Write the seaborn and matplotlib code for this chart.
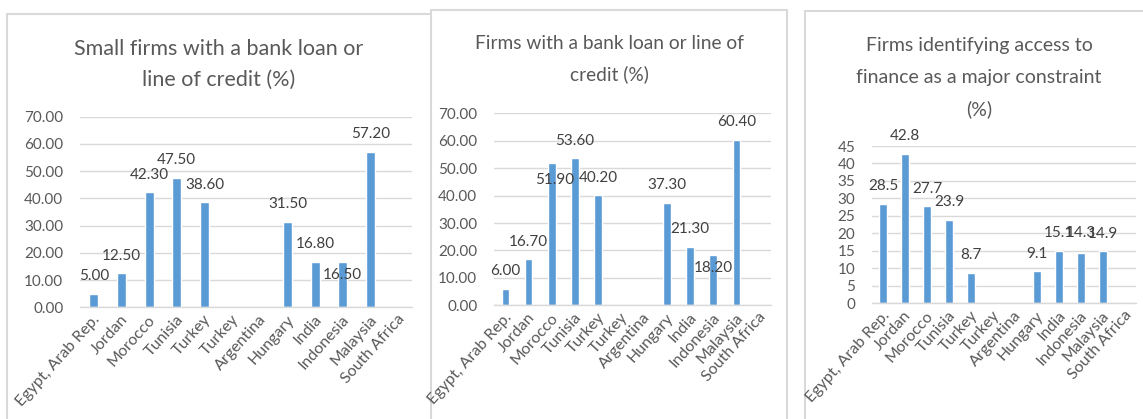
import numpy as np
import pandas as pd
import matplotlib
matplotlib.use("Agg")
import matplotlib.pyplot as plt
from matplotlib.patches import Rectangle
from matplotlib.transforms import ScaledTranslation
import seaborn as sns

# ---- data -------------------------------------------------------------
countries = ["Egypt, Arab Rep.", "Jordan", "Morocco", "Tunisia", "Turkey", "Turkey",
             "Argentina", "Hungary", "India", "Indonesia", "Malaysia", "South Africa"]
nan = np.nan
small_firms_loan = [5.00, 12.50, 42.30, 47.50, 38.60, nan, nan, 31.50, 16.80, 16.50, 57.20, nan]
firms_loan = [6.00, 16.70, 51.90, 53.60, 40.20, nan, nan, 37.30, 21.30, 18.20, 60.40, nan]
finance_constraint = [28.5, 42.8, 27.7, 23.9, 8.7, nan, nan, 9.1, 15.1, 14.3, 14.9, nan]

titles = [
    ["Small firms with a bank loan or", "line of credit (%)"],
    ["Firms with a bank loan or line of", "credit (%)"],
    ["Firms identifying access to", "finance as a major constraint", "(%)"],
]

# ---- styling ----------------------------------------------------------
sns.set_style("white")
plt.rcParams["font.family"] = ["Lato", "DejaVu Sans"]

BAR = "#5b9bd5"
GRID = "#d9d9d9"
TXT = "#595959"
LBL = "#404040"

W, H = 1143, 419
fig = plt.figure(figsize=(W / 100, H / 100), dpi=100)
fig.patch.set_facecolor("white")


def fx(px):
    return px / W


def fy(py):
    return 1 - py / H


# chart frames (left to right, later ones drawn over earlier ones)
frames = [(7, 14.5, 450), (431, 10, 787), (805, 11, 1160)]
for k, (x0, y0, x1) in enumerate(frames):
    fig.add_artist(Rectangle((fx(x0), fy(430)), fx(x1) - fx(x0), fy(y0) - fy(430),
                             transform=fig.transFigure, facecolor="white",
                             edgecolor=GRID, lw=1.5, zorder=-3 + k * 0.5))

# plot areas: (left, right, top, bottom) in pixels
areas = [(80, 412, 116.7, 307.3), (494, 771, 113.3, 305.3), (872, 1136, 146, 303.3)]
series = [small_firms_loan, firms_loan, finance_constraint]
ymax = [70, 70, 45]
ystep = [10, 10, 5]
fmt = ["{:.2f}", "{:.2f}", "{:.1f}"]
title_base = [(219, [55, 86]), (609, [49, 80]), (979, [51, 83, 115])]
title_size = [15.5, 13.8, 14]

# per-label nudges in pixels (dx, dy); positive dy moves the label up
default_dy = 17.5
nudges = [
    {9: (0, -12.6)},
    {2: (2.5, -17), 9: (0, -13)},
    {9: (0, 20)},
]

for k in range(3):
    l, r, t, b = areas[k]
    ax = fig.add_axes([fx(l), fy(b), fx(r) - fx(l), fy(t) - fy(b)])
    ax.set_facecolor("none")
    df = pd.DataFrame({"pos": list(range(len(countries))), "value": series[k]}).dropna()
    sns.barplot(data=df, x="pos", y="value", order=list(range(len(countries))),
                color=BAR, saturation=1, width=0.33, errorbar=None, ax=ax, zorder=2)
    ax.set_ylim(0, ymax[k])
    ax.set_xlim(-0.5, len(countries) - 0.5)
    ticks = np.arange(0, ymax[k] + 0.1, ystep[k])
    ax.set_yticks(ticks)
    if k < 2:
        ax.set_yticklabels([f"{v:.2f}" for v in ticks])
    else:
        ax.set_yticklabels([f"{v:.0f}" for v in ticks])
    ax.set_xticks(range(len(countries)))
    ax.set_xlabel("")
    ax.set_ylabel("")
    ax.tick_params(axis="both", length=0, labelcolor=TXT, labelsize=11)
    ax.tick_params(axis="y", pad=12)
    ax.tick_params(axis="x", pad=7, labelsize=11.5)
    ax.set_xticklabels(countries, rotation=48, ha="right", va="center",
                       rotation_mode="anchor")
    # nudge the slanted country names a little to the right of each bar
    shift = ScaledTranslation(4 / 100, 0, fig.dpi_scale_trans)
    for lbl in ax.get_xticklabels():
        lbl.set_transform(lbl.get_transform() + shift)
    ax.yaxis.grid(True, color=GRID, lw=1)
    ax.set_axisbelow(True)
    for s in ["left", "right", "top"]:
        ax.spines[s].set_visible(False)
    ax.spines["bottom"].set_color(GRID)
    ax.spines["bottom"].set_linewidth(1)

    for i, v in enumerate(series[k]):
        if np.isnan(v):
            continue
        dx, dy = nudges[k].get(i, (0, default_dy))
        ax.annotate(fmt[k].format(v), xy=(i, v), xytext=(dx, dy),
                    textcoords="offset pixels", ha="center", va="center",
                    fontsize=11, color=LBL, zorder=3)

    cx, bases = title_base[k]
    for line, yb in zip(titles[k], bases):
        fig.text(fx(cx), fy(yb), line, ha="center", va="baseline",
                 fontsize=title_size[k], color=TXT)

fig.savefig("out.png", dpi=100, facecolor="white")
